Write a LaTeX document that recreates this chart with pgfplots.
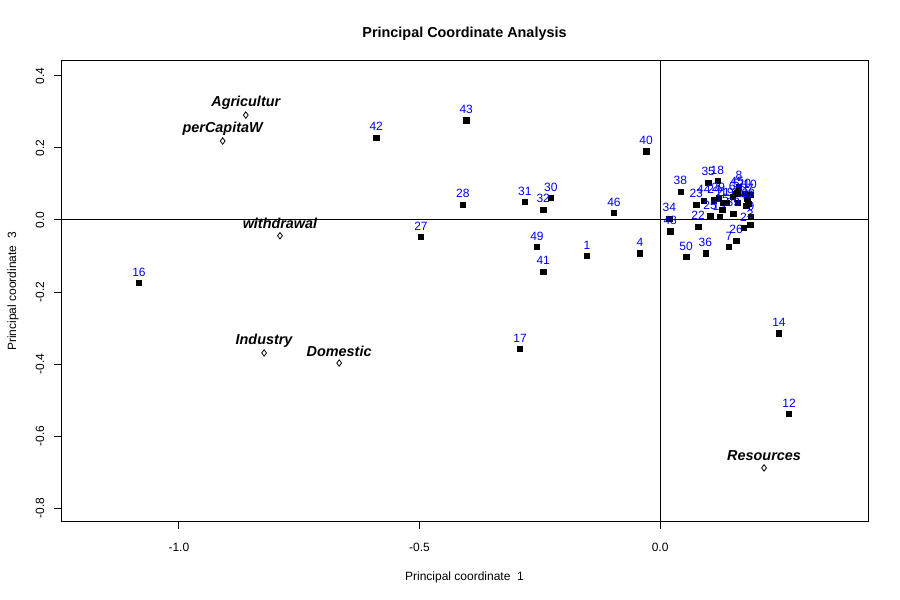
\documentclass[border=0pt]{standalone}
\usepackage{pgfplots}
\pgfplotsset{compat=1.18}
\usepackage{fontspec}
\setmainfont{Liberation Sans}
\begin{document}
\begin{tikzpicture}
\begin{axis}[
  scale only axis, width=807bp, height=461bp,
  at={(0,0)}, anchor=south west,
  xmin=-1.245, xmax=0.432, ymin=-0.838, ymax=0.441,
  axis line style={line width=1bp},
  axis x line*=box, axis y line*=box,
  xtick={-1,-0.5,0}, xticklabels={-1.0,-0.5,0.0},
  ytick={-0.8,-0.6,-0.4,-0.2,0,0.2,0.4},
  yticklabels={-0.8,-0.6,-0.4,-0.2,0.0,0.2,0.4},
  xtick pos=bottom, ytick pos=left,
  tick align=outside, major tick length=7bp,
  tick style={line width=1bp, black},
  xticklabel style={anchor=north, inner sep=0pt, font=\fontsize{12bp}{14bp}\selectfont},
  xticklabel shift=13.5bp,
  yticklabel style={rotate=90, anchor=south, inner sep=0pt, font=\fontsize{12bp}{14bp}\selectfont},
  yticklabel shift=9.5bp,
  title={Principal Coordinate Analysis},
  title style={at={(axis description cs:0.5,1.0455)}, anchor=center, font=\fontsize{14.4bp}{17bp}\selectfont\bfseries},
  xlabel={Principal coordinate\ \ 1},
  ylabel={Principal coordinate\ \ 3},
  xlabel style={at={(axis description cs:0.5,-0.1193)}, anchor=center, font=\fontsize{12bp}{14bp}\selectfont},
  ylabel style={at={(axis description cs:-0.0595,0.5)}, anchor=center, rotate=0, font=\fontsize{12bp}{14bp}\selectfont},
]
\addplot[black, line width=1bp, forget plot] coordinates {(0,-2) (0,2)};
\addplot[black, line width=1bp, forget plot] coordinates {(-2,0) (2,0)};

\addplot[only marks, mark=square*, mark size=2.6bp, black,
  nodes near coords, point meta=explicit symbolic,
  every node near coord/.append style={anchor=center, yshift=11bp, text=blue, inner sep=0pt,
    font=\fontsize{12bp}{14bp}\selectfont}]
table[meta=lab] {
x y lab
-1.083 -0.175 16
-0.590 0.228 42
-0.403 0.277 43
-0.410 0.042 28
-0.497 -0.047 27
-0.281 0.050 31
-0.227 0.061 30
-0.243 0.028 32
-0.256 -0.075 49
-0.243 -0.144 41
-0.291 -0.358 17
-0.152 -0.100 1
-0.096 0.019 46
-0.042 -0.092 4
-0.029 0.191 40
0.247 -0.314 14
0.268 -0.538 12
0.042 0.078 38
0.019 0.003 34
0.021 -0.031 48
0.054 -0.103 50
0.094 -0.092 36
0.079 -0.019 22
0.143 -0.075 7
0.158 -0.058 26
0.100 0.103 35
0.119 0.108 18
0.164 0.092 8
0.158 0.072 5
0.175 0.072 20
0.187 0.069 10
0.181 0.058 37
0.179 0.039 47
0.075 0.042 23
0.091 0.053 44
0.112 0.055 24
0.121 0.061 29
0.139 0.047 19
0.150 0.064 6
0.162 0.047 11
0.104 0.011 25
0.123 0.008 13
0.129 0.028 15
0.152 0.017 39
0.189 0.008 9
0.187 -0.014 3
0.173 -0.022 2
0.183 0.044 33
0.131 0.047 21
0.160 0.075 45
};

\addplot[only marks, mark=diamond, mark size=3.2bp, black, line width=0.8bp,
  nodes near coords, point meta=explicit symbolic,
  every node near coord/.append style={anchor=center, yshift=12bp, text=black, inner sep=0pt,
    font=\fontsize{14.4bp}{17bp}\selectfont\bfseries\itshape}]
table[meta=lab] {
x y lab
-0.861 0.291 Agricultur
-0.909 0.219 perCapitaW
-0.790 -0.044 withdrawal
-0.823 -0.369 Industry
-0.667 -0.397 Domestic
0.216 -0.688 Resources
};
\end{axis}
\pgfresetboundingbox
\path[use as bounding box] (-61bp,-78bp) rectangle (839bp,522bp);
\end{tikzpicture}
\end{document}
